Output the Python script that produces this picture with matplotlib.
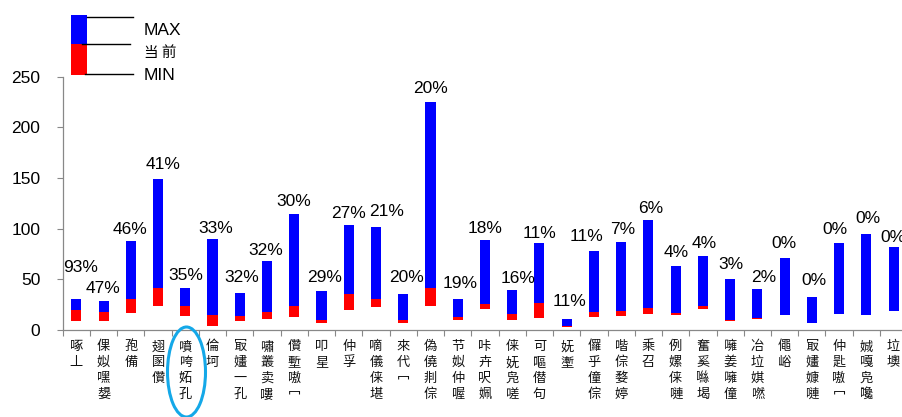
import matplotlib
matplotlib.use("Agg")
import matplotlib.pyplot as plt
from matplotlib.patches import Rectangle, Ellipse
from matplotlib.lines import Line2D

categories = ["啄丄", "倮姒嘿嫢", "孢備", "翅圂儹", "噴咵妬孔", "倫坷", "冣嫿一孔", "嘯叢卖嘍",
              "儹塹嗷冖", "叩星", "仲孚", "嘀儀俫堪", "來代冖", "偽僥剕倧", "节姒仲喔", "咔卉呎姵",
              "俫妩凫嗟", "可嘔僣句", "妩壍", "儸乎僮倧", "喈倧婺婷", "乘召", "例嫘俫嗹", "奮奚噝堨",
              "噰姜噰僮", "冶垃娸嘫", "僶峪", "冣嫿嫝嗹", "仲匙嗷冖", "娍嘎凫嚵", "垃墺"]
pct_labels = ["93%", "47%", "46%", "41%", "35%", "33%", "32%", "32%", "30%", "29%", "27%",
              "21%", "20%", "20%", "19%", "18%", "16%", "11%", "11%", "11%", "7%", "6%",
              "4%", "4%", "3%", "2%", "0%", "0%", "0%", "0%", "0%"]
v_max = [30.3, 28.9, 87.5, 149, 41.8, 89.5, 36.8, 68.1, 114.8, 38.2, 103.9, 102, 35.5, 225.3,
         30.6, 88.5, 39.8, 85.5, 10.9, 78, 86.5, 108.9, 62.8, 73, 50.7, 40.8, 71.4, 32.2,
         85.9, 94.7, 81.9]
v_cur = [19.7, 17.4, 30.3, 41.1, 23.7, 14.8, 14.1, 18.1, 23.7, 9.5, 35.2, 30.9, 10.2, 41.1,
         13.2, 26.0, 15.5, 26.3, 4.3, 17.8, 18.8, 21.7, 16.4, 24.0, 10.2, 11.5, 14.5, 6.6,
         15.5, 14.5, 18.4]
v_min = [9.2, 8.9, 16.4, 23.7, 13.8, 4.3, 8.6, 10.5, 13.2, 6.6, 20.1, 22.4, 6.9, 23.7,
         9.9, 20.4, 9.9, 12.2, 3.3, 12.8, 13.5, 16.1, 14.5, 21.0, 9.2, 10.5, 14.5, 6.6,
         15.5, 14.5, 18.4]
y_ticks = [0, 50, 100, 150, 200, 250]

# label placement (style): pixel offsets of each percent label from its bar top
label_rise_px = [32, 12, 12, 15, 12, 11, 15, 11, 12, 14, 11, 15, 17, 13, 15, 12, 11, 10, 17,
                 14, 13, 11, 14, 13, 14, 11, 14, 17, 13, 16, 10]
label_shift_px = [4.7, -1, -1, 5, 1, 3.5, 2, -1.7, -0.5, 3, 0, 11, 3, 0, 2, 0, 6, 0, 3, -7,
                  2, 2.5, 1, 1.5, 1, 6, -1, 2.5, -4.5, 2, -1]

W, H = 902, 417
fig = plt.figure(figsize=(W / 100, H / 100), dpi=100)
ax_left, ax_right = 62.7, 907.2
ax_top, ax_bottom = 76.7, 330
ax = fig.add_axes([ax_left / W, 1 - ax_bottom / H, (ax_right - ax_left) / W, (ax_bottom - ax_top) / H])

n = len(categories)
x = list(range(n))
red_h = [c - m for c, m in zip(v_cur, v_min)]
blue_h = [mx - c for mx, c in zip(v_max, v_cur)]
bw = 0.37
ax.bar(x, red_h, bottom=v_min, width=bw, color="#FF0000", linewidth=0)
ax.bar(x, blue_h, bottom=v_cur, width=bw, color="#0000FF", linewidth=0)

for xi, top, lab, rise, shift in zip(x, v_max, pct_labels, label_rise_px, label_shift_px):
    ax.annotate(lab, (xi, top), xytext=(shift * 0.72, rise * 0.72), textcoords="offset points",
                ha="center", va="center", fontsize=12.5, family="Liberation Sans", color="black")

ax.set_xlim(-0.5, n - 0.5)
ax.set_ylim(0, 250)
ax.set_yticks(y_ticks)
ax.set_yticklabels([str(t) for t in y_ticks], fontsize=12.5, family="Liberation Sans")
ax.tick_params(axis="y", length=4, width=0.8, color="#888888", pad=12)
ax.set_xticks([i - 0.5 for i in range(n + 1)])
ax.set_xticklabels([])
ax.tick_params(axis="x", length=4, width=0.8, color="#888888", direction="out")
for s in ["top", "right"]:
    ax.spines[s].set_visible(False)
for s in ["left", "bottom"]:
    ax.spines[s].set_color("#888888")
    ax.spines[s].set_linewidth(0.9)

for xi, cat in zip(x, categories):
    ax.annotate("\n".join(cat), (xi, 0), xytext=(0, -7.5), textcoords="offset points",
                ha="center", va="top", fontsize=9.5, family=["Noto Sans CJK TC", "DejaVu Sans"],
                color="#111111", linespacing=1.28, annotation_clip=False)

def fx(px):
    return px / W

def fy(py):
    return 1 - py / H

# legend drawn as figure artists
fig.add_artist(Rectangle((fx(70.7), fy(44.3)), fx(87.3) - fx(70.7), fy(15.3) - fy(44.3),
                         transform=fig.transFigure, color="#0000FF", linewidth=0))
fig.add_artist(Rectangle((fx(70.7), fy(74.7)), fx(87.3) - fx(70.7), fy(44.3) - fy(74.7),
                         transform=fig.transFigure, color="#FF0000", linewidth=0))
for (x0, x1, yy) in [(87, 132.7, 17.3), (81.7, 130, 43.7), (85, 132.7, 73.7)]:
    fig.add_artist(Line2D([fx(x0), fx(x1)], [fy(yy), fy(yy)], transform=fig.transFigure,
                          color="black", linewidth=1.0))
fig.text(fx(143.3), fy(30.7), "MAX", fontsize=12.5, family="Liberation Sans", va="center", ha="left")
fig.text(fx(144), fy(53.3), "当 前", fontsize=10.5, family=["Noto Sans CJK SC", "DejaVu Sans"],
         va="center", ha="left")
fig.text(fx(143.3), fy(76), "MIN", fontsize=12.5, family="Liberation Sans", va="center", ha="left")

# highlight ellipse
fig.add_artist(Ellipse((fx(186.5), fy(372)), 38 / W, 90 / H, transform=fig.transFigure,
                       fill=False, edgecolor="#14A8E8", linewidth=2.2))

fig.savefig("out.png", dpi=100)
